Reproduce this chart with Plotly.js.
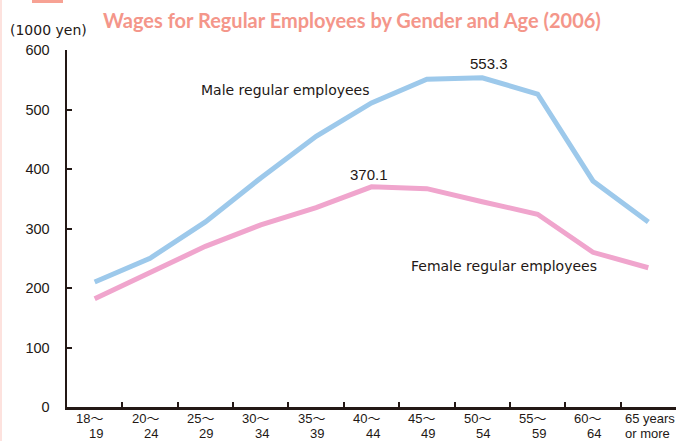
<!DOCTYPE html>
<html>
<head>
<meta charset="utf-8">
<script src="https://cdn.plot.ly/plotly-3.0.1.min.js"></script>
<style>
  html, body { margin: 0; padding: 0; background: #ffffff; }
  #chart { width: 689px; height: 441px; }
</style>
</head>
<body>
<div id="chart"></div>
<script>
// ---- data ----
const ageGroups = ["18～19", "20～24", "25～29", "30～34", "35～39", "40～44", "45～49", "50～54", "55～59", "60～64", "65 years or more"];
const labelTop = ["18～", "20～", "25～", "30～", "35～", "40～", "45～", "50～", "55～", "60～", "65 years"];
const labelBottom = ["19", "24", "29", "34", "39", "44", "49", "54", "59", "64", "or more"];
const maleWages = [210, 250, 311, 385, 455, 511, 551, 553.3, 526, 380, 311];
const femaleWages = [182, 227, 270, 306, 335, 370.1, 367, 345, 324, 260, 234];
const yTicks = [0, 100, 200, 300, 400, 500, 600];

const axisColor = "#231815";
const textColor = "#231815";
const maleColor = "#9dc9eb";
const femaleColor = "#f0a5cd";

const traces = [
  {
    x: ageGroups, y: maleWages, type: "scatter", mode: "lines",
    line: { color: maleColor, width: 5, shape: "linear" },
    name: "Male regular employees", hoverinfo: "skip"
  },
  {
    x: ageGroups, y: femaleWages, type: "scatter", mode: "lines",
    line: { color: femaleColor, width: 5, shape: "linear" },
    name: "Female regular employees", hoverinfo: "skip"
  }
];

const seriesFont = { family: "DejaVu Sans, sans-serif", size: 14, color: textColor };
const valueFont = { family: "Liberation Sans, Arial, sans-serif", size: 15, color: textColor };
const catFont = { family: "Liberation Sans, Noto Sans CJK JP, sans-serif", size: 13, color: textColor };

const annotations = [];
// category labels under the axis (two lines)
for (let i = 0; i < ageGroups.length; i++) {
  const last = i === ageGroups.length - 1;
  annotations.push({
    x: ageGroups[i], y: 0, xref: "x", yref: "y",
    yanchor: "middle", xanchor: last ? "left" : "center",
    xshift: last ? -24 : -5, yshift: -11.5,
    text: labelTop[i], showarrow: false, font: catFont, borderpad: 0
  });
  annotations.push({
    x: ageGroups[i], y: 0, xref: "x", yref: "y",
    yanchor: "middle", xanchor: last ? "left" : "center",
    xshift: last ? -24 : 1, yshift: -26.5,
    text: labelBottom[i], showarrow: false, font: catFont, borderpad: 0
  });
}
// peak value labels
const maxMaleIdx = maleWages.indexOf(Math.max(...maleWages));
const maxFemaleIdx = femaleWages.indexOf(Math.max(...femaleWages));
annotations.push({
  x: ageGroups[maxMaleIdx], y: maleWages[maxMaleIdx], xref: "x", yref: "y",
  text: maleWages[maxMaleIdx].toFixed(1), showarrow: false, font: valueFont,
  yanchor: "bottom", yshift: 4, xshift: 7
});
annotations.push({
  x: ageGroups[maxFemaleIdx], y: femaleWages[maxFemaleIdx], xref: "x", yref: "y",
  text: femaleWages[maxFemaleIdx].toFixed(1), showarrow: false, font: valueFont,
  yanchor: "bottom", yshift: 2, xshift: -3
});
// series labels (pixel positions, converted below)
annotations.push({
  x: 285, y: 90, text: "Male regular employees",
  showarrow: false, font: seriesFont, xanchor: "center", yanchor: "middle"
});
annotations.push({
  x: 504, y: 266, text: "Female regular employees",
  showarrow: false, font: seriesFont, xanchor: "center", yanchor: "middle"
});
// unit label
annotations.push({
  x: 8, y: 30, text: "(1000 yen)", showarrow: false, xanchor: "left", yanchor: "middle",
  font: { family: "DejaVu Sans, sans-serif", size: 14, color: textColor }
});
// title
annotations.push({
  x: 101, y: 20, text: "<b>Wages for Regular Employees by Gender and Age (2006)</b>",
  showarrow: false, xanchor: "left", yanchor: "middle",
  font: { family: "Lato, Open Sans, sans-serif", size: 20, color: "#f4968a" }
});

// convert pixel-placed annotations to paper fractions
const W = 689, H = 441, mL = 67, mR = 13, mT = 50, mB = 34;
const pw = W - mL - mR, ph = H - mT - mB;
annotations.forEach(a => {
  if (a.xref === undefined) {
    a.xref = "paper"; a.yref = "paper";
    a.x = (a.x - mL) / pw;
    a.y = (H - mB - a.y) / ph;
  }
});

const layout = {
  width: W, height: H,
  margin: { l: mL, r: mR, t: mT, b: mB, pad: 0 },
  paper_bgcolor: "#ffffff", plot_bgcolor: "#ffffff",
  showlegend: false,
  xaxis: {
    type: "category",
    range: [-0.5, ageGroups.length - 0.5],
    showline: true, linecolor: axisColor, linewidth: 2.5,
    ticks: "inside", ticklen: 5, tickwidth: 2, tickcolor: axisColor,
    tickson: "boundaries",
    showticklabels: false, showgrid: false, zeroline: false, fixedrange: true
  },
  yaxis: {
    range: [0, 600],
    tickmode: "array", tickvals: yTicks, ticktext: yTicks.map(String),
    showline: true, linecolor: axisColor, linewidth: 2.5,
    ticks: "inside", ticklen: 5, tickwidth: 2, tickcolor: axisColor,
    ticklabelstandoff: 12,
    tickfont: { family: "Liberation Sans, Arial, sans-serif", size: 14.5, color: textColor },
    showgrid: false, zeroline: false, fixedrange: true
  },
  annotations: annotations,
  shapes: [
    { type: "rect", xref: "paper", yref: "paper",
      x0: (0 - mL) / pw, x1: (2 - mL) / pw, y0: (H - mB - 0) / ph, y1: (H - mB - H) / ph,
      fillcolor: "#fde2de", line: { width: 0 }, layer: "below" },
    { type: "rect", xref: "paper", yref: "paper",
      x0: (32 - mL) / pw, x1: (63 - mL) / pw,
      y0: (H - mB - (-4)) / ph, y1: (H - mB - 3) / ph,
      fillcolor: "#f7a294", line: { width: 0 }, layer: "below" }
  ]
};

Plotly.newPlot("chart", traces, layout, { displayModeBar: false, staticPlot: true });
</script>
</body>
</html>
